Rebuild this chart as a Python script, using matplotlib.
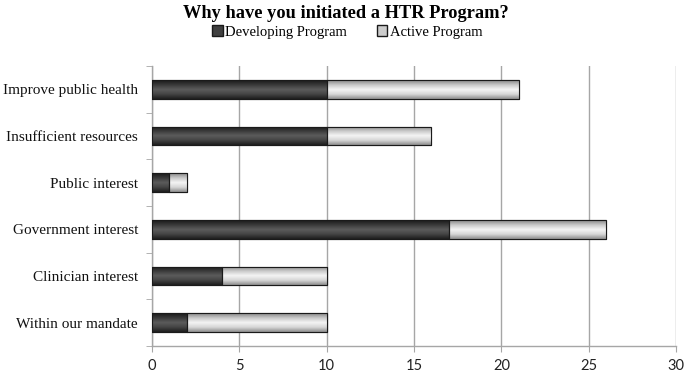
import numpy as np
import matplotlib
matplotlib.use("Agg")
import matplotlib.pyplot as plt
from matplotlib.colors import LinearSegmentedColormap
from matplotlib.patches import Patch

# Data (top to bottom as in the chart)
categories = ["Improve public health", "Insufficient resources", "Public interest",
              "Government interest", "Clinician interest", "Within our mandate"]
developing = [10, 10, 1, 17, 4, 2]
active = [11, 6, 1, 9, 6, 8]
xticks = [0, 5, 10, 15, 20, 25, 30]

fig = plt.figure(figsize=(6.85, 3.72), dpi=100)
ax = fig.add_axes([152 / 685, 26 / 372, 524 / 685, 280 / 372])

y = np.arange(len(categories))[::-1]
h = 0.4

dark_cmap = LinearSegmentedColormap.from_list("dk", ["#1e1e1e", "#444444", "#5c5c5c", "#3a3a3a", "#1a1a1a"])
light_cmap = LinearSegmentedColormap.from_list("lt", ["#8e8e8e", "#d6d6d6", "#f4f4f4", "#c8c8c8", "#858585"])
grad = np.linspace(0, 1, 64).reshape(-1, 1)

b1 = ax.barh(y, developing, height=h, color="#404040", edgecolor="#1a1a1a", linewidth=0.8, zorder=3)
b2 = ax.barh(y, active, left=developing, height=h, color="#cccccc", edgecolor="#1a1a1a", linewidth=0.8, zorder=3)

for bars, cmap in [(b1, dark_cmap), (b2, light_cmap)]:
    for p in bars:
        x0, y0 = p.get_x(), p.get_y()
        w, hh = p.get_width(), p.get_height()
        im = ax.imshow(grad, cmap=cmap, aspect="auto", origin="upper",
                       extent=[x0, x0 + w, y0 + hh, y0], zorder=3.5)
        im.set_clip_path(p)
        ax.add_patch(plt.Rectangle((x0, y0), w, hh, fill=False,
                                   edgecolor="#1a1a1a", linewidth=0.8, zorder=4))

ax.set_xlim(0, 30)
ax.set_ylim(-0.5, len(categories) - 0.5)

ax.set_xticks(xticks)
ax.set_xticklabels([str(t) for t in xticks], fontsize=10.5, family="Lato", color="#222222")
ax.xaxis.grid(True, color="#a6a6a6", linewidth=1.0, zorder=0)
ax.tick_params(axis="x", length=4, color="#a6a6a6", pad=5)

ax.set_yticks(y)
ax.set_yticklabels(categories, fontsize=11, family="Liberation Serif", color="#111111")
ax.set_yticks(np.arange(-0.5, len(categories), 1), minor=True)
ax.tick_params(axis="y", which="major", length=0, pad=10)
ax.tick_params(axis="y", which="minor", length=4, color="#a6a6a6")

for side in ["top", "right"]:
    ax.spines[side].set_visible(False)
for side in ["left", "bottom"]:
    ax.spines[side].set_color("#a6a6a6")
    ax.spines[side].set_linewidth(1.0)

fig.text(0.505, 1 - 13 / 372, "Why have you initiated a HTR Program?", ha="center", va="center",
         fontsize=13.2, fontweight="bold", family="Liberation Serif")

handles = [Patch(facecolor="#404040", edgecolor="#1a1a1a", label="Developing Program"),
           Patch(facecolor="#cccccc", edgecolor="#1a1a1a", label="Active Program")]
fig.legend(handles=handles, loc="center", bbox_to_anchor=(0.507, 1 - 32 / 372), ncol=2, frameon=False,
           prop={"family": "Liberation Serif", "size": 10.5}, handlelength=0.7, handleheight=0.7,
           handletextpad=0.2, columnspacing=2.0)

fig.savefig("out.png", dpi=100)
